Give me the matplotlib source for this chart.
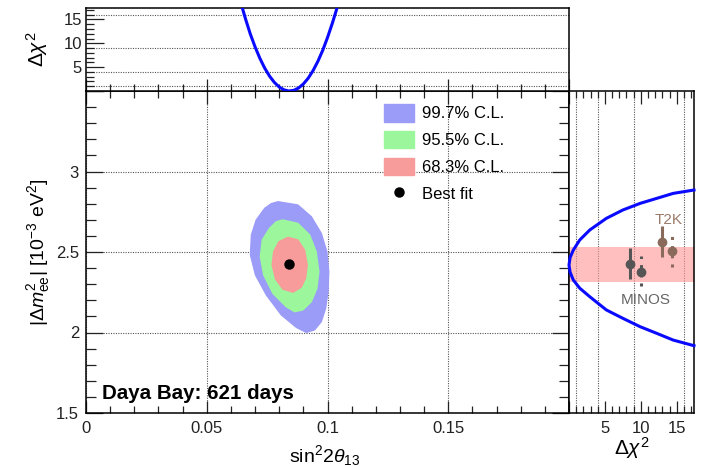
import matplotlib
matplotlib.use('Agg')
import matplotlib.pyplot as plt
from matplotlib.patches import Polygon, Patch
from matplotlib.lines import Line2D
from matplotlib.ticker import MultipleLocator, FuncFormatter

plt.rcParams['font.family'] = ['Liberation Sans', 'DejaVu Sans']
plt.rcParams['mathtext.fontset'] = 'custom'
plt.rcParams['mathtext.rm'] = 'Liberation Sans'
plt.rcParams['mathtext.it'] = 'Liberation Sans:italic'
plt.rcParams['mathtext.bf'] = 'Liberation Sans:bold'

# --- data ---
best_fit = (0.084, 2.424)

# contour outlines (sin^2 2theta13, |dm2_ee|)
cl997_x = [0.0795, 0.0877, 0.0933, 0.0974, 0.0997, 0.1005, 0.1002, 0.0992, 0.0974, 0.0946,
           0.0912, 0.0871, 0.0809, 0.0747, 0.0702, 0.0681, 0.0685, 0.0705, 0.0740, 0.0767]
cl997_y = [2.812, 2.792, 2.719, 2.616, 2.502, 2.378, 2.253, 2.150, 2.067, 2.016,
           2.001, 2.032, 2.109, 2.233, 2.357, 2.481, 2.606, 2.699, 2.771, 2.800]
cl955_x = [0.0815, 0.0877, 0.0926, 0.0953, 0.0964, 0.0956, 0.0933, 0.0898, 0.0864, 0.0829,
           0.0774, 0.0736, 0.0722, 0.0730, 0.0760, 0.0788]
cl955_y = [2.699, 2.678, 2.606, 2.502, 2.378, 2.274, 2.191, 2.140, 2.129, 2.160,
           2.243, 2.357, 2.471, 2.575, 2.647, 2.688]
cl683_x = [0.0836, 0.0877, 0.0905, 0.0916, 0.0909, 0.0891, 0.0857, 0.0815, 0.0785, 0.0771, 0.0777, 0.0799]
cl683_y = [2.591, 2.575, 2.512, 2.419, 2.337, 2.281, 2.250, 2.270, 2.332, 2.419, 2.502, 2.564]

# delta chi2 profile vs sin^2 2theta13 (top panel)
prof_s2t = [0.064, 0.066, 0.068, 0.070, 0.072, 0.074, 0.076, 0.078, 0.080, 0.082, 0.084,
            0.086, 0.088, 0.090, 0.092, 0.094, 0.096, 0.098, 0.100, 0.102, 0.104, 0.106]
prof_s2t_chi2 = [18.7, 15.2, 12.0, 9.26, 6.85, 4.80, 3.12, 1.80, 0.84, 0.24, 0.0,
                 0.13, 0.62, 1.47, 2.68, 4.26, 6.20, 8.50, 11.2, 14.2, 17.5, 21.3]

# delta chi2 profile vs |dm2_ee| (right panel)
prof_dm_chi2 = [17.4, 14.5, 12.2, 9.9, 7.5, 5.2, 2.9, 1.5, 0.6, 0.15, 0.0,
                0.15, 0.6, 1.5, 2.9, 5.2, 7.5, 9.9, 12.2, 14.5, 17.4]
prof_dm = [2.885, 2.864, 2.833, 2.802, 2.761, 2.709, 2.637, 2.575, 2.512, 2.465, 2.419,
           2.375, 2.326, 2.275, 2.222, 2.140, 2.088, 2.036, 1.995, 1.953, 1.918]
dm_band = (2.312, 2.533)

# other experiments: x position on the chi2 axis, value, lower/upper errors
minos_x = [8.5, 10.0]
minos_y = [2.425, 2.374]
minos_err = [[0.092, 0.097], [0.087, 0.104]]
t2k_x = [12.9, 14.4]
t2k_y = [2.564, 2.506]
t2k_err = [[0.098, 0.098], [0.099, 0.099]]

chi2_levels = [1, 4, 9, 16]

# colours
c_997 = '#9b9bf8'
c_955 = '#9cf79c'
c_683 = '#f89b9b'
c_line = '#0a0aff'
grid_kw = dict(color='#555555', linestyle=(0, (1, 1.2)), linewidth=0.8)

W, H = 704, 467
fig = plt.figure(figsize=(W / 100, H / 100), dpi=100)


def frac(x0, y0, x1, y1):
    return [x0 / W, 1 - y1 / H, (x1 - x0) / W, (y1 - y0) / H]


def fmt_skip(*skip):
    return FuncFormatter(lambda v, p: '' if any(abs(v - s) < 1e-9 for s in skip) else '%g' % round(v, 3))


ax = fig.add_axes(frac(86, 91, 569, 413))
ax_top = fig.add_axes(frac(86, 8, 569, 91), sharex=ax)
ax_r = fig.add_axes(frac(569, 91, 694, 413), sharey=ax)

for a in (ax, ax_top, ax_r):
    for s in a.spines.values():
        s.set_linewidth(1.1)
        s.set_color('black')
    a.tick_params(which='both', direction='in', labelsize=12, colors='#222222', width=0.9)

# ---- main panel ----
ax.set_xlim(0, 0.2)
ax.set_ylim(1.5, 3.5)
ax.xaxis.set_major_locator(MultipleLocator(0.05))
ax.xaxis.set_minor_locator(MultipleLocator(0.01))
ax.yaxis.set_major_locator(MultipleLocator(0.5))
ax.yaxis.set_minor_locator(MultipleLocator(0.1))
ax.xaxis.set_major_formatter(fmt_skip(0.2))
ax.yaxis.set_major_formatter(fmt_skip(3.5))
ax.tick_params(which='both', top=True, right=True)
ax.tick_params(axis='x', which='major', length=9, pad=6)
ax.tick_params(axis='x', which='minor', length=5)
ax.tick_params(axis='y', which='major', length=12, pad=5)
ax.tick_params(axis='y', which='minor', length=7)
ax.grid(True, which='major', **grid_kw)
ax.set_axisbelow(True)

for xs, ys, c in ((cl997_x, cl997_y, c_997), (cl955_x, cl955_y, c_955), (cl683_x, cl683_y, c_683)):
    ax.add_patch(Polygon(list(zip(xs, ys)), closed=True, facecolor=c, edgecolor=c, lw=1.0,
                         joinstyle='round', zorder=2))
ax.plot([best_fit[0]], [best_fit[1]], 'o', color='black', ms=6.5, zorder=3)

handles = [Patch(facecolor=c_997, edgecolor=c_997), Patch(facecolor=c_955, edgecolor=c_955),
           Patch(facecolor=c_683, edgecolor=c_683),
           Line2D([], [], marker='o', color='black', ls='none', ms=6.5)]
labels = ['99.7% C.L.', '95.5% C.L.', '68.3% C.L.', 'Best fit']
ax.legend(handles, labels, loc='upper left', bbox_to_anchor=((384 - 86) / 483, (413 - 104) / 322),
          frameon=False, fontsize=12, handlelength=1.8, handleheight=1.25, handletextpad=0.45,
          labelspacing=0.55, borderpad=0, borderaxespad=0)

ax.text(0.034, 0.03, 'Daya Bay: 621 days', transform=ax.transAxes, fontsize=14.8,
        fontweight='bold', ha='left', va='bottom')

ax.set_xlabel(r'sin$^2$2$\theta_{13}$', fontsize=14)
ax.xaxis.set_label_coords(0.495, -0.095)
ax.set_ylabel(r'$|\Delta m^2_{\rm ee}|$ [10$^{-3}$ eV$^2$]', fontsize=14)
ax.yaxis.set_label_coords(-0.07, 0.5)

# ---- top panel ----
ax_top.set_ylim(0, 17.4)
ax_top.yaxis.set_major_locator(MultipleLocator(5))
ax_top.yaxis.set_minor_locator(MultipleLocator(1))
ax_top.yaxis.set_major_formatter(fmt_skip(0))
ax_top.tick_params(axis='x', which='both', labelbottom=False, bottom=True, top=False)
ax_top.tick_params(axis='x', which='major', length=9)
ax_top.tick_params(axis='x', which='minor', length=5)
ax_top.tick_params(axis='y', which='major', length=13, pad=3)
ax_top.tick_params(axis='y', which='minor', length=6)
for lv in chi2_levels:
    ax_top.axhline(lv, **grid_kw, zorder=1)
ax_top.plot(prof_s2t, prof_s2t_chi2, color=c_line, lw=2.2, zorder=3)
ax_top.set_ylabel(r'$\Delta\chi^2$', fontsize=15)
ax_top.yaxis.set_label_coords(-0.075, 0.5)

# ---- right panel ----
ax_r.set_xlim(0, 17.4)
ax_r.xaxis.set_major_locator(MultipleLocator(5))
ax_r.xaxis.set_minor_locator(MultipleLocator(1))
ax_r.xaxis.set_major_formatter(fmt_skip(0))
ax_r.tick_params(axis='y', which='both', left=False, labelleft=False)
ax_r.tick_params(axis='x', which='both', top=True)
ax_r.tick_params(axis='x', which='major', length=9, pad=6)
ax_r.tick_params(axis='x', which='minor', length=5)
for lv in chi2_levels:
    ax_r.axvline(lv, **grid_kw, zorder=1)
ax_r.axhspan(dm_band[0], dm_band[1], color='#ff9999', alpha=0.62, lw=0, zorder=1.5)
ax_r.plot(prof_dm_chi2, prof_dm, color=c_line, lw=2.2, zorder=3, clip_on=False)

eb = ax_r.errorbar(minos_x[:1], minos_y[:1], yerr=[[minos_err[0][0]], [minos_err[0][1]]], fmt='o',
                   color='#555555', ms=6, elinewidth=2.2, capsize=0, zorder=4)
eb = ax_r.errorbar(minos_x[1:], minos_y[1:], yerr=[[minos_err[1][0]], [minos_err[1][1]]], fmt='o',
                   color='#555555', ms=6, elinewidth=2.2, capsize=0, zorder=4)
eb[2][0].set_linestyle((0, (1, 2)))
eb = ax_r.errorbar(t2k_x[:1], t2k_y[:1], yerr=[[t2k_err[0][0]], [t2k_err[0][1]]], fmt='o',
                   color='#8a6a5a', ms=6, elinewidth=2.2, capsize=0, zorder=4)
eb = ax_r.errorbar(t2k_x[1:], t2k_y[1:], yerr=[[t2k_err[1][0]], [t2k_err[1][1]]], fmt='o',
                   color='#8a6a5a', ms=6, elinewidth=2.2, capsize=0, zorder=4)
eb[2][0].set_linestyle((0, (1, 2)))
ax_r.text(13.8, 2.70, 'T2K', color='#9a7a6a', fontsize=11, ha='center', va='center')
ax_r.text(10.7, 2.20, 'MINOS', color='#666666', fontsize=11, ha='center', va='center')

ax_r.set_xlabel(r'$\Delta\chi^2$', fontsize=15)
ax_r.xaxis.set_label_coords(0.5, -0.068)

fig.savefig('out.png', dpi=100)
